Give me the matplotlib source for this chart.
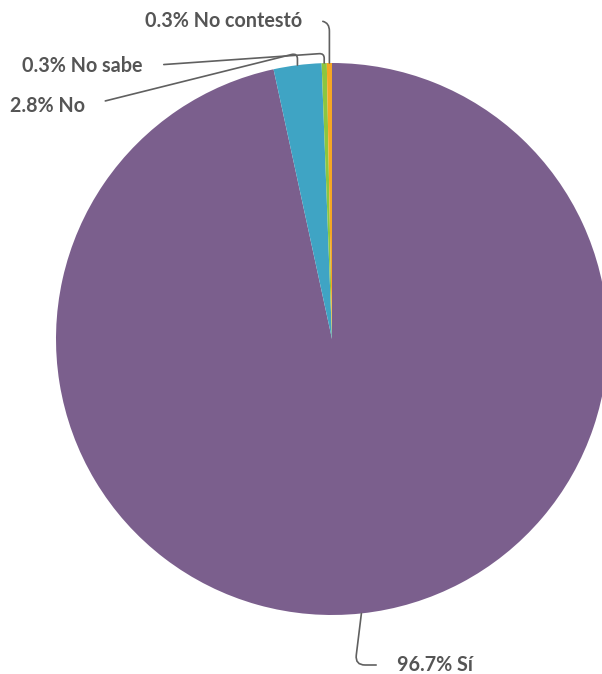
import numpy as np
import matplotlib.pyplot as plt

# Survey answers (percent)
labels = ['Sí', 'No', 'No sabe', 'No contestó']
values = [96.7, 2.8, 0.3, 0.3]
colors = ['#7b5f8d', '#3fa4c4', '#8cc63f', '#f5a623']

# label placement in figure pixels (from top-left), and leader styles
label_pos = {
    'Sí': (397, 665),
    'No': (85, 106),
    'No sabe': (143, 66),
    'No contestó': (302, 21),
}
label_ha = {'Sí': 'left', 'No': 'right', 'No sabe': 'right', 'No contestó': 'right'}
conn = {
    'Sí': 'angle,angleA=180,angleB=83,rad=10',
    'No': 'angle,angleA=14,angleB=90,rad=6',
    'No sabe': 'angle,angleA=4,angleB=90,rad=5',
    'No contestó': 'angle,angleA=0,angleB=90,rad=10',
}

W, H = 602, 674
fig = plt.figure(figsize=(W / 100, H / 100), dpi=100)
# pie circle: center (332, 339), radius 276 px
cx, cy, r = 332, 339, 276
ax = fig.add_axes([(cx - r) / W, (H - cy - r) / H, 2 * r / W, 2 * r / H])

wedges, _ = ax.pie(values, colors=colors, startangle=90, counterclock=False,
                   radius=1, wedgeprops=dict(linewidth=0))
ax.set_xlim(-1, 1)
ax.set_ylim(-1, 1)
ax.axis('off')

for w, lab, v in zip(wedges, labels, values):
    ang = np.deg2rad((w.theta1 + w.theta2) / 2)
    xy = (np.cos(ang), np.sin(ang))
    tx, ty = label_pos[lab]
    ha = label_ha[lab]
    ax.annotate('%.1f%% %s' % (v, lab), xy=xy, xycoords='data',
                xytext=(tx, H - ty), textcoords='figure pixels',
                ha=ha, va='center', fontsize=14.2, family='Lato',
                fontweight='bold', color='#555555',
                arrowprops=dict(arrowstyle='-', color='#606060', lw=1.2,
                                connectionstyle=conn[lab],
                                relpos=(0 if ha == 'left' else 1, 0.5),
                                shrinkA=13, shrinkB=0))

fig.savefig('out.png', dpi=100)
